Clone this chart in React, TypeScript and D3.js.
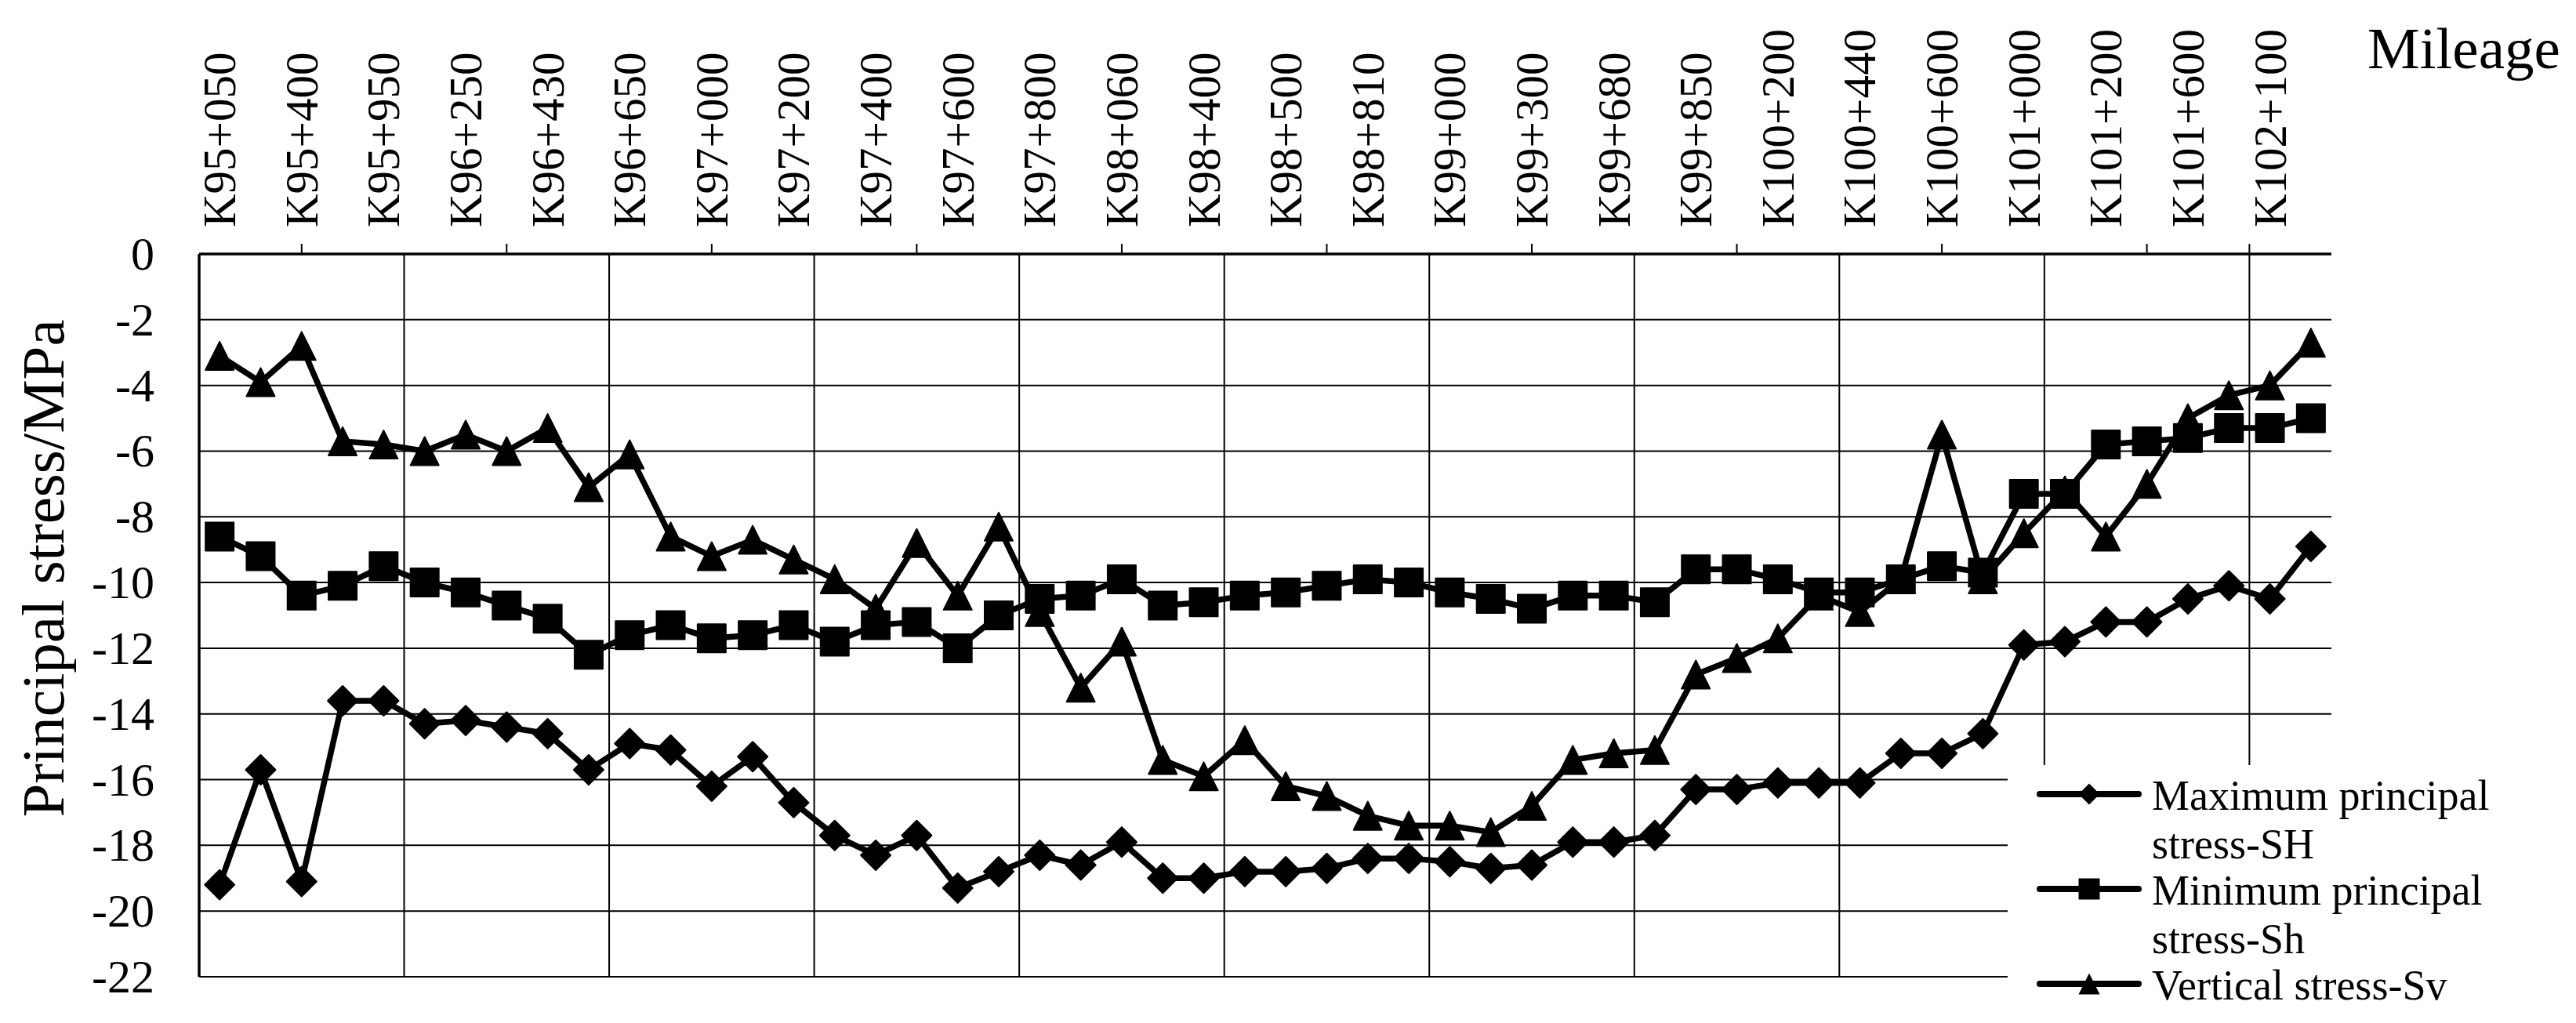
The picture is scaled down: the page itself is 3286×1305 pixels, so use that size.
import React, { useEffect, useRef } from 'react';
import * as d3 from 'd3';

// mileage labels, shown on every second station
const mileageLabels = [
  'K95+050', 'K95+400', 'K95+950', 'K96+250', 'K96+430', 'K96+650', 'K97+000',
  'K97+200', 'K97+400', 'K97+600', 'K97+800', 'K98+060', 'K98+400', 'K98+500',
  'K98+810', 'K99+000', 'K99+300', 'K99+680', 'K99+850', 'K100+200', 'K100+440',
  'K100+600', 'K101+000', 'K101+200', 'K101+600', 'K102+100',
];

const shMax = [
  -19.2, -15.7, -19.1, -13.6, -13.6, -14.3, -14.2, -14.4, -14.6, -15.7, -14.9, -15.1, -16.2,
  -15.3, -16.7, -17.7, -18.3, -17.7, -19.3, -18.8, -18.3, -18.6, -17.9, -19.0, -19.0, -18.8,
  -18.8, -18.7, -18.4, -18.4, -18.5, -18.7, -18.6, -17.9, -17.9, -17.7, -16.3, -16.3, -16.1,
  -16.1, -16.1, -15.2, -15.2, -14.6, -11.9, -11.8, -11.2, -11.2, -10.5, -10.1, -10.5, -8.9,
];

const shMin = [
  -8.6, -9.2, -10.4, -10.1, -9.5, -10.0, -10.3, -10.7, -11.1, -12.2, -11.6, -11.3, -11.7,
  -11.6, -11.3, -11.8, -11.3, -11.2, -12.0, -11.0, -10.5, -10.4, -9.9, -10.7, -10.6, -10.4,
  -10.3, -10.1, -9.9, -10.0, -10.3, -10.5, -10.8, -10.4, -10.4, -10.6, -9.6, -9.6, -9.9,
  -10.3, -10.3, -9.9, -9.5, -9.7, -7.3, -7.3, -5.8, -5.7, -5.6, -5.3, -5.3, -5.0,
];

const svVert = [
  -3.1, -3.9, -2.8, -5.7, -5.8, -6.0, -5.5, -6.0, -5.3, -7.1, -6.1, -8.6, -9.2,
  -8.7, -9.3, -9.9, -10.8, -8.8, -10.4, -8.3, -10.9, -13.2, -11.8, -15.4, -15.9, -14.8,
  -16.2, -16.5, -17.1, -17.4, -17.4, -17.6, -16.8, -15.4, -15.2, -15.1, -12.8, -12.3, -11.7,
  -10.4, -10.9, -9.9, -5.5, -9.9, -8.5, -7.2, -8.6, -7.0, -5.0, -4.3, -4.0, -2.7,
];

const stressTicks = [0, -2, -4, -6, -8, -10, -12, -14, -16, -18, -20, -22];

const seriesNames = [
  ['Maximum principal', 'stress-SH'],
  ['Minimum principal', 'stress-Sh'],
  ['Vertical stress-Sv'],
];

const FONT = 'Liberation Serif';

const markerPath = (kind: string, s: number) => {
  const r = s / 2;
  if (kind === 'diamond') return `M0,${-r}L${r},0L0,${r}L${-r},0Z`;
  if (kind === 'square') return `M${-r},${-r}H${r}V${r}H${-r}Z`;
  return `M0,${-r}L${r},${r}L${-r},${r}Z`;
};

const App = () => {
  const svgRef = useRef<SVGSVGElement>(null);

  useEffect(() => {
    const width = 3286;
    const height = 1305;
    const left = 254, right = 2974, top = 324, bottom = 1246;

    const svg = d3.select(svgRef.current)
      .attr('width', width)
      .attr('height', height)
      .attr('font-family', FONT);

    svg.selectAll('*').remove();

    const idx = d3.range(shMax.length);
    const x = d3.scaleBand<number>().domain(idx).range([left, right]).padding(0);
    const cx = (i: number) => (x(i) as number) + x.bandwidth() / 2;
    const y = d3.scaleLinear().domain([0, -22]).range([top, bottom]);

    // horizontal grid
    svg.append('g')
      .selectAll('line')
      .data(stressTicks)
      .join('line')
      .attr('x1', left)
      .attr('x2', right)
      .attr('y1', d => y(d))
      .attr('y2', d => y(d))
      .attr('stroke', '#000')
      .attr('stroke-width', d => (d === 0 ? 3.5 : 2));

    // vertical grid every 5 stations
    svg.append('g')
      .selectAll('line')
      .data(d3.range(5, shMax.length, 5))
      .join('line')
      .attr('x1', d => x(d) as number)
      .attr('x2', d => x(d) as number)
      .attr('y1', top)
      .attr('y2', bottom)
      .attr('stroke', '#000')
      .attr('stroke-width', 2);

    // left axis
    svg.append('line')
      .attr('x1', left).attr('x2', left)
      .attr('y1', top).attr('y2', bottom)
      .attr('stroke', '#000').attr('stroke-width', 3.5);

    // small ticks on the top axis
    const tickX = d3.range(2, 50, 5).map(cx).concat([x(50) as number]);
    svg.append('g')
      .selectAll('line')
      .data(tickX)
      .join('line')
      .attr('x1', d => d).attr('x2', d => d)
      .attr('y1', top - 13).attr('y2', top)
      .attr('stroke', '#000').attr('stroke-width', 2);

    // top category labels
    svg.append('g')
      .selectAll('text')
      .data(mileageLabels)
      .join('text')
      .attr('transform', (d, i) => `translate(${cx(i * 2)},290) rotate(-90)`)
      .attr('text-anchor', 'start')
      .attr('dominant-baseline', 'central')
      .attr('font-family', FONT)
      .attr('font-size', 59)
      .text(d => d);

    svg.append('text')
      .attr('x', 3020)
      .attr('y', 87)
      .attr('font-family', FONT)
      .attr('font-size', 75)
      .text('Mileage');

    // y labels
    svg.append('g')
      .selectAll('text')
      .data(stressTicks)
      .join('text')
      .attr('x', 197)
      .attr('y', d => y(d))
      .attr('text-anchor', 'end')
      .attr('dominant-baseline', 'central')
      .attr('font-family', FONT)
      .attr('font-size', 60)
      .text(d => String(d));

    svg.append('text')
      .attr('transform', 'translate(55,725) rotate(-90)')
      .attr('text-anchor', 'middle')
      .attr('dominant-baseline', 'central')
      .attr('font-family', FONT)
      .attr('font-size', 77)
      .text('Principal stress/MPa');

    // legend background covers the grid
    svg.append('rect')
      .attr('x', 2561).attr('y', 976)
      .attr('width', width - 2561).attr('height', height - 976)
      .attr('fill', '#fff');

    const series = [
      { values: shMax, kind: 'diamond', size: 38 },
      { values: shMin, kind: 'square', size: 36 },
      { values: svVert, kind: 'triangle', size: 36 },
    ];

    const line = d3.line<number>()
      .x((d, i) => cx(i))
      .y(d => y(d));

    series.forEach(s => {
      svg.append('path')
        .attr('d', line(s.values))
        .attr('fill', 'none')
        .attr('stroke', '#000')
        .attr('stroke-width', 7.5)
        .attr('stroke-linejoin', 'round');

      svg.append('g')
        .selectAll('path')
        .data(s.values)
        .join('path')
        .attr('transform', (d, i) => `translate(${cx(i)},${y(d)})`)
        .attr('d', markerPath(s.kind, s.size))
        .attr('fill', '#000')
        .attr('stroke', '#000')
        .attr('stroke-width', 2)
        .attr('stroke-linejoin', 'round');
    });

    // legend
    const legend = svg.append('g');
    const legendY = [1013, 1134, 1255];
    series.forEach((s, k) => {
      const g = legend.append('g').attr('transform', `translate(0,${legendY[k]})`);
      g.append('line')
        .attr('x1', 2602).attr('x2', 2728)
        .attr('stroke', '#000').attr('stroke-width', 8)
        .attr('stroke-linecap', 'round');
      g.append('path')
        .attr('transform', 'translate(2665,0)')
        .attr('d', markerPath(s.kind, 27))
        .attr('fill', '#000');
      seriesNames[k].forEach((t, j) => {
        g.append('text')
          .attr('x', 2745)
          .attr('y', 20 + j * 62)
          .attr('font-family', FONT)
          .attr('font-size', 54)
          .text(t);
      });
    });
  }, []);

  return (
    <div style={{ position: 'absolute', left: 0, top: 0, background: '#fff' }}>
      <svg ref={svgRef}></svg>
    </div>
  );
};

export default App;
